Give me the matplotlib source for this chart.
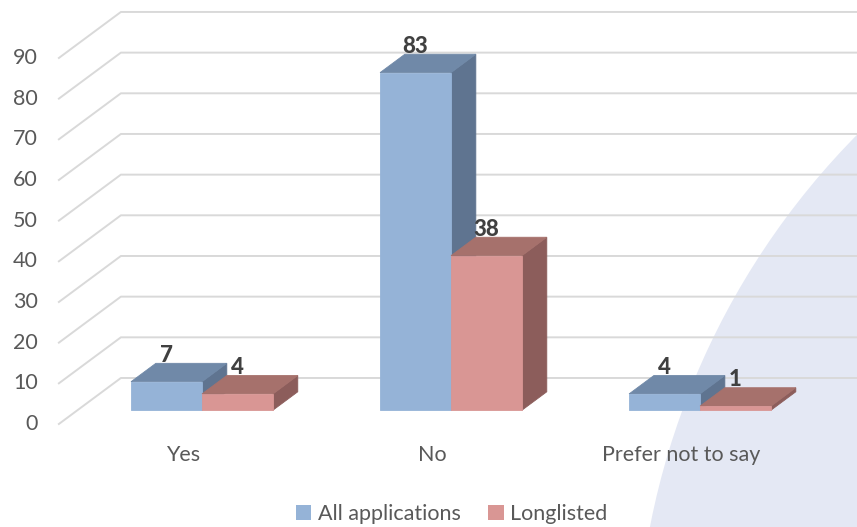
import matplotlib.pyplot as plt
from matplotlib.patches import Polygon, Ellipse, Patch

plt.rcParams['font.family'] = ['Lato', 'DejaVu Sans']

categories = ['Yes', 'No', 'Prefer not to say']
all_applications = [7, 83, 4]
longlisted = [4, 38, 1]
y_ticks = list(range(0, 100, 10))

blue = {'front': '#95b3d7', 'top': '#7089a8', 'side': '#5f7490'}
red = {'front': '#d99694', 'top': '#a6716c', 'side': '#8c5d5b'}

# oblique 3D look: full depth shifts by DX categories and DY value units
DX, DY = 0.249, 11.31
Z0, Z1 = 0.3, 0.7
W = 0.285


def proj(x, v, z):
    return (x + z * DX, v + z * DY)


def draw_bar(ax, x0, h, c):
    front = [proj(x0, 0, Z0), proj(x0 + W, 0, Z0), proj(x0 + W, h, Z0), proj(x0, h, Z0)]
    top = [proj(x0, h, Z0), proj(x0 + W, h, Z0), proj(x0 + W, h, Z1), proj(x0, h, Z1)]
    side = [proj(x0 + W, 0, Z0), proj(x0 + W, 0, Z1), proj(x0 + W, h, Z1), proj(x0 + W, h, Z0)]
    for pts, key in [(side, 'side'), (top, 'top'), (front, 'front')]:
        ax.add_patch(Polygon(pts, closed=True, facecolor=c[key], edgecolor=c[key],
                             lw=0.6, zorder=3))
    ax.text(x0 + W / 2 + Z0 * DX, h + Z1 * DY + 1.9, str(h), ha='center', va='center',
            fontsize=16, fontweight='black', color='#404040', zorder=4)


fig = plt.figure(figsize=(8.57, 5.27), dpi=100)
ax = fig.add_axes([0, 0, 1, 1])
ax.set_xlim(-0.7365, 2.705)
ax.set_ylim(-25.33, 104.25)
ax.axis('off')

# soft background swoosh on the right
ax.add_patch(Ellipse((1401.8 / 857, 1 - 673.3 / 527), 2 * 766 / 857, 2 * 766 / 527,
                     transform=fig.transFigure, facecolor='#e4e8f4', edgecolor='none', zorder=0))

# gridlines: short diagonal on the side wall, then across the back wall
for v in y_ticks:
    ax.plot([-0.5, -0.5 + DX, 3.2], [v, v + DY, v + DY], color='#d9d9d9', lw=1.4, zorder=1)
    ax.text(-0.585, v, str(v), ha='right', va='center', fontsize=15.5, color='#595959')

for i in range(len(categories)):
    draw_bar(ax, i - W, all_applications[i], blue)
    draw_bar(ax, i, longlisted[i], red)
    ax.text(i, -7.6, categories[i], ha='center', va='center', fontsize=15.5, color='#595959')

handles = [Patch(facecolor=blue['front'], label='All applications'),
           Patch(facecolor=red['front'], label='Longlisted')]
leg = ax.legend(handles=handles, loc='center', bbox_to_anchor=(0.527, 0.025),
                bbox_transform=fig.transFigure, ncol=2, frameon=False, fontsize=15.5,
                handlelength=0.7, handleheight=0.7, handletextpad=0.3, columnspacing=1.3)
for t in leg.get_texts():
    t.set_color('#595959')

fig.savefig('out.png', dpi=100)
